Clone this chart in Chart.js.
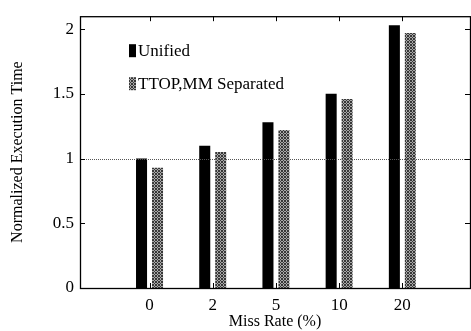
<!DOCTYPE html>
<html>
<head>
<meta charset="utf-8">
<script src="https://cdn.jsdelivr.net/npm/chart.js@4/dist/chart.umd.min.js"></script>
<style>
  html,body{margin:0;padding:0;background:#fff;}
  #wrap{width:471px;height:331px;}
</style>
</head>
<body>
<div id="wrap"><canvas id="c" width="471" height="331"></canvas></div>
<script>
const categories = ['0', '2', '5', '10', '20'];
const unified = [1.0, 1.1, 1.28, 1.5, 2.03];
const separated = [0.93, 1.05, 1.22, 1.46, 1.97];
const yTicks = [0, 0.5, 1, 1.5, 2];
const seriesNames = ['Unified', 'TTOP,MM Separated'];
const xTitle = 'Miss Rate (%)';
const yTitle = 'Normalized Execution Time';
const refLine = 1;

function makePattern() {
  const pc = document.createElement('canvas');
  pc.width = 3; pc.height = 3;
  const g = pc.getContext('2d');
  g.fillStyle = '#a8a8a8'; g.fillRect(0, 0, 3, 3);
  g.fillStyle = '#383838';
  g.fillRect(0, 0, 1, 1); g.fillRect(2, 0, 1, 1);
  g.fillRect(1, 1, 1, 1);
  g.fillRect(0, 2, 1, 1); g.fillRect(2, 2, 1, 1);
  return g.createPattern(pc, 'repeat');
}
const grayPattern = makePattern();
const serif = '"Liberation Serif", "Times New Roman", serif';

const framePlugin = {
  id: 'frame',
  afterDatasetsDraw(chart) {
    const ctx = chart.ctx;
    const a = chart.chartArea;
    const xs = chart.scales.x, ys = chart.scales.y;
    ctx.save();
    ctx.strokeStyle = '#555';
    ctx.lineWidth = 1;
    ctx.setLineDash([1, 1]);
    const yr = Math.round(ys.getPixelForValue(refLine)) + 0.5;
    ctx.beginPath(); ctx.moveTo(a.left, yr); ctx.lineTo(a.right, yr); ctx.stroke();
    ctx.setLineDash([]);
    ctx.strokeStyle = '#000';
    ctx.lineWidth = 1.3;
    ctx.strokeRect(a.left + 0.5, a.top + 0.5, a.right - a.left, a.bottom - a.top);
    ctx.lineWidth = 1;
    ctx.beginPath();
    yTicks.forEach(v => {
      const p = Math.round(ys.getPixelForValue(v)) + 0.5;
      ctx.moveTo(a.left, p); ctx.lineTo(a.left + 5, p);
      ctx.moveTo(a.right, p); ctx.lineTo(a.right - 5, p);
    });
    categories.forEach((c, i) => {
      const p = Math.round(xs.getPixelForValue(i)) + 0.5;
      ctx.moveTo(p, a.bottom); ctx.lineTo(p, a.bottom - 5);
      ctx.moveTo(p, a.top); ctx.lineTo(p, a.top + 5);
    });
    ctx.stroke();
    ctx.font = '17px ' + serif;
    ctx.textBaseline = 'middle';
    chart.data.datasets.forEach((ds, i) => {
      const bx = a.left + 49, by = a.top + 28 + i * 33;
      ctx.fillStyle = ds.backgroundColor;
      ctx.fillRect(bx, by, 7, 13);
      ctx.fillStyle = '#000';
      ctx.fillText(ds.label, bx + 9, by + 7);
    });
    ctx.restore();
  }
};

new Chart(document.getElementById('c'), {
  type: 'bar',
  data: {
    datasets: [
      { label: seriesNames[0], data: unified.map((v, i) => ({ x: i, y: v })), backgroundColor: '#000', borderWidth: 0 },
      { label: seriesNames[1], data: separated.map((v, i) => ({ x: i, y: v })), backgroundColor: grayPattern, borderWidth: 0 }
    ]
  },
  options: {
    responsive: false,
    animation: false,
    devicePixelRatio: 1,
    layout: { padding: { top: 7, right: 1, left: 0, bottom: 0 } },
    datasets: { bar: { categoryPercentage: 0.506, barPercentage: 0.69 } },
    plugins: { legend: { display: false }, tooltip: { enabled: false } },
    scales: {
      x: {
        type: 'linear',
        offset: false,
        min: -1.1,
        max: 5.07,
        grid: { display: false, drawTicks: false, offset: false },
        border: { display: false },
        afterBuildTicks: s => { s.ticks = categories.map((c, i) => ({ value: i })); },
        afterFit: s => { s.height = 43; },
        ticks: {
          autoSkip: false,
          maxRotation: 0,
          padding: 7,
          color: '#000',
          font: { family: serif, size: 17 },
          callback: v => categories[v] ?? ''
        },
        title: {
          display: true,
          text: xTitle,
          color: '#000',
          font: { family: serif, size: 16, lineHeight: 1 },
          padding: { top: 0, bottom: 1 }
        }
      },
      y: {
        min: 0,
        max: 2.1,
        grid: { display: false, drawTicks: false },
        border: { display: false },
        afterBuildTicks: s => { s.ticks = yTicks.map(v => ({ value: v })); },
        afterFit: s => { s.width = 80; },
        ticks: {
          padding: 6,
          color: '#000',
          font: { family: serif, size: 17 },
          callback: v => String(v)
        },
        title: {
          display: true,
          text: yTitle,
          color: '#000',
          font: { family: serif, size: 16, lineHeight: 1 },
          padding: { top: 10, bottom: 0 }
        }
      }
    }
  },
  plugins: [framePlugin]
});
</script>
</body>
</html>
